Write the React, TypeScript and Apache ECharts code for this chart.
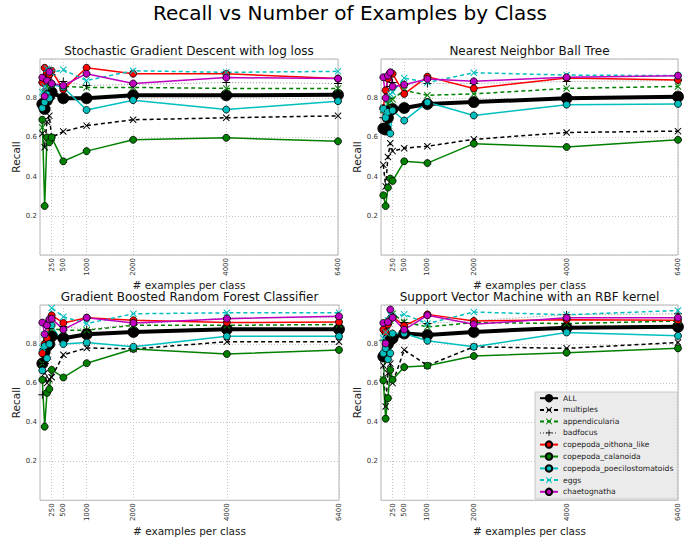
import React, { useEffect, useRef } from 'react';
import * as echarts from 'echarts';

// ---------- data ----------
const X_VALUES = [50, 100, 150, 200, 250, 500, 1000, 2000, 4000, 6400];
const X_TICKS = [250, 500, 1000, 2000, 4000, 6400];
const Y_TICKS = [0.2, 0.4, 0.6, 0.8];

const CLASS_NAMES = [
  'ALL',
  'multiples',
  'appendicularia',
  'badfocus',
  'copepoda_oithona_like',
  'copepoda_calanoida',
  'copepoda_poecilostomatoids',
  'eggs',
  'chaetognatha',
];

const PANEL_TITLES = [
  'Stochastic Gradient Descent with log loss',
  'Nearest Neighbor Ball Tree',
  'Gradient Boosted Random Forest Classifier',
  'Support Vector Machine with an RBF kernel',
];

// rows follow CLASS_NAMES, columns follow X_VALUES
const SGD = [
  [0.77, 0.745, 0.79, 0.81, 0.83, 0.8, 0.8, 0.815, 0.815, 0.817],
  [0.62, 0.55, 0.68, 0.71, 0.6, 0.63, 0.66, 0.69, 0.7, 0.71],
  [0.65, 0.83, 0.86, 0.88, 0.87, 0.86, 0.855, 0.855, 0.85, 0.85],
  [0.88, 0.9, 0.92, 0.93, 0.92, 0.885, 0.865, 0.87, 0.88, 0.875],
  [0.88, 0.955, 0.93, 0.92, 0.94, 0.845, 0.955, 0.925, 0.925, 0.9],
  [0.69, 0.25, 0.6, 0.575, 0.6, 0.478, 0.53, 0.588, 0.598, 0.58],
  [0.75, 0.78, 0.82, 0.8, 0.87, 0.856, 0.74, 0.79, 0.742, 0.785],
  [0.83, 0.86, 0.95, 0.94, 0.93, 0.945, 0.89, 0.94, 0.932, 0.937],
  [0.905, 0.81, 0.89, 0.935, 0.875, 0.865, 0.925, 0.875, 0.905, 0.9],
];

const NN = [
  [0.645, 0.64, 0.7, 0.74, 0.745, 0.75, 0.77, 0.78, 0.8, 0.808],
  [0.46, 0.35, 0.5, 0.57, 0.53, 0.545, 0.555, 0.59, 0.625, 0.632],
  [0.74, 0.72, 0.77, 0.79, 0.795, 0.84, 0.815, 0.822, 0.85, 0.86],
  [0.7, 0.72, 0.8, 0.86, 0.88, 0.87, 0.875, 0.875, 0.885, 0.89],
  [0.75, 0.84, 0.9, 0.93, 0.925, 0.822, 0.91, 0.85, 0.903, 0.893],
  [0.305, 0.25, 0.344, 0.39, 0.378, 0.478, 0.469, 0.568, 0.551, 0.588],
  [0.745, 0.7, 0.73, 0.62, 0.737, 0.686, 0.779, 0.712, 0.767, 0.771],
  [0.75, 0.72, 0.79, 0.82, 0.83, 0.903, 0.88, 0.93, 0.918, 0.915],
  [0.907, 0.801, 0.915, 0.932, 0.859, 0.869, 0.898, 0.886, 0.907, 0.915],
];

const GBRF = [
  [0.7, 0.76, 0.79, 0.8, 0.84, 0.83, 0.85, 0.862, 0.876, 0.876],
  [0.7, 0.65, 0.6, 0.62, 0.63, 0.745, 0.78, 0.775, 0.812, 0.812],
  [0.7, 0.8, 0.85, 0.9, 0.88, 0.871, 0.871, 0.896, 0.896, 0.9],
  [0.54, 0.7, 0.82, 0.88, 0.92, 0.89, 0.875, 0.9, 0.935, 0.935],
  [0.753, 0.8, 0.83, 0.92, 0.947, 0.908, 0.935, 0.922, 0.91, 0.913],
  [0.617, 0.377, 0.55, 0.57, 0.668, 0.629, 0.702, 0.775, 0.749, 0.77],
  [0.665, 0.79, 0.727, 0.8, 0.896, 0.8, 0.808, 0.786, 0.84, 0.84],
  [0.78, 0.85, 0.9, 0.92, 0.985, 0.94, 0.905, 0.955, 0.96, 0.96],
  [0.91, 0.85, 0.896, 0.927, 0.93, 0.874, 0.935, 0.908, 0.93, 0.942],
];

const SVM = [
  [0.736, 0.74, 0.8, 0.82, 0.83, 0.854, 0.846, 0.862, 0.884, 0.888],
  [0.69, 0.48, 0.65, 0.7, 0.6, 0.77, 0.69, 0.786, 0.778, 0.808],
  [0.62, 0.75, 0.85, 0.92, 0.955, 0.913, 0.888, 0.91, 0.905, 0.918],
  [0.82, 0.85, 0.9, 0.93, 0.94, 0.91, 0.905, 0.92, 0.95, 0.955],
  [0.874, 0.86, 0.9, 0.93, 0.939, 0.893, 0.952, 0.918, 0.925, 0.922],
  [0.614, 0.418, 0.523, 0.668, 0.617, 0.682, 0.689, 0.739, 0.756, 0.778],
  [0.753, 0.778, 0.722, 0.753, 0.854, 0.854, 0.817, 0.786, 0.859, 0.842],
  [0.83, 0.86, 0.92, 0.95, 0.94, 0.952, 0.905, 0.964, 0.95, 0.972],
  [0.908, 0.803, 0.913, 0.977, 0.935, 0.874, 0.947, 0.901, 0.935, 0.935],
];

const PANELS = [SGD, NN, GBRF, SVM];

// ---------- styles ----------
const FONT = 'DejaVu Sans';
const X_SYMBOL = 'path://M0,1L1,0L5,4L9,0L10,1L6,5L10,9L9,10L5,6L1,10L0,9L4,5Z';
const PLUS_SYMBOL = 'path://M4.4,0H5.6V4.4H10V5.6H5.6V10H4.4V5.6H0V4.4H4.4Z';
const DASH = [4, 3];

const STYLES: any[] = [
  { color: '#000000', line: '#000000', width: 4, type: 'solid', symbol: 'circle', size: 11, edge: true },
  { color: '#000000', line: '#000000', width: 1.5, type: DASH, symbol: X_SYMBOL, size: 7, edge: false },
  { color: '#008000', line: '#008000', width: 1.5, type: DASH, symbol: X_SYMBOL, size: 7, edge: false },
  { color: '#000000', line: '#8a8a8a', width: 1, type: [1, 2], symbol: PLUS_SYMBOL, size: 8, edge: false },
  { color: '#ff0000', line: '#ff0000', width: 1.5, type: 'solid', symbol: 'circle', size: 7, edge: true },
  { color: '#008000', line: '#008000', width: 1.5, type: 'solid', symbol: 'circle', size: 7, edge: true },
  { color: '#00bfbf', line: '#00bfbf', width: 1.5, type: 'solid', symbol: 'circle', size: 7, edge: true },
  { color: '#00bfbf', line: '#00bfbf', width: 1.5, type: DASH, symbol: X_SYMBOL, size: 7, edge: false },
  { color: '#bf00bf', line: '#bf00bf', width: 1.5, type: 'solid', symbol: 'circle', size: 7, edge: true },
];

const GRIDS = [
  { left: 40, top: 59, width: 298, height: 196 },
  { left: 381, top: 59, width: 297, height: 196 },
  { left: 40, top: 305, width: 299, height: 197 },
  { left: 381, top: 305, width: 297, height: 197 },
];

function buildOption() {
  const gridLine = { show: true, lineStyle: { color: '#c4c4c4', type: [1, 2], width: 1 } };
  const titles: any[] = [
    {
      text: 'Recall vs Number of Examples by Class',
      left: 350,
      top: 3,
      padding: 0,
      textAlign: 'center',
      textStyle: { fontSize: 20, fontWeight: 'normal', color: '#000', fontFamily: FONT },
    },
  ];
  GRIDS.forEach((g, i) => {
    titles.push({
      text: PANEL_TITLES[i],
      left: g.left + g.width / 2,
      top: g.top - 14,
      padding: 0,
      textAlign: 'center',
      textStyle: { fontSize: 12, fontWeight: 'normal', color: '#111', fontFamily: FONT, lineHeight: 12 },
    });
  });

  const series: any[] = [];
  PANELS.forEach((panel, p) => {
    panel.forEach((values, c) => {
      const s = STYLES[c];
      series.push({
        type: 'line',
        name: CLASS_NAMES[c],
        xAxisIndex: p,
        yAxisIndex: p,
        data: X_VALUES.map((x, k) => [x, values[k]]),
        symbol: s.symbol,
        symbolSize: s.size,
        showAllSymbol: true,
        itemStyle: {
          color: s.color,
          borderColor: s.edge ? '#000' : s.color,
          borderWidth: s.edge ? 0.8 : 0,
        },
        lineStyle: { color: s.line, width: s.width, type: s.type },
        emphasis: { disabled: true },
        clip: false,
      });
    });
  });

  return {
    animation: false,
    backgroundColor: '#ffffff',
    title: titles,
    grid: GRIDS.map((g) => ({
      ...g,
      show: true,
      borderColor: '#b4b4b4',
      borderWidth: 1,
      backgroundColor: '#ffffff',
    })),
    xAxis: GRIDS.map((_, i) => ({
      type: 'value',
      gridIndex: i,
      min: 0,
      max: 6400,
      name: '# examples per class',
      nameLocation: 'middle',
      nameGap: 16,
      nameTextStyle: { fontSize: 10.5, color: '#222', fontFamily: FONT, lineHeight: 11 },
      axisLine: { show: false },
      axisTick: { show: false, customValues: X_TICKS },
      axisLabel: {
        customValues: X_TICKS,
        rotate: 90,
        fontSize: 7,
        color: '#333',
        margin: 3,
        fontFamily: FONT,
        formatter: (v: number) => String(v),
      },
      splitLine: gridLine,
    })),
    yAxis: GRIDS.map((_, i) => ({
      type: 'value',
      gridIndex: i,
      min: 0,
      max: 1,
      interval: 0.2,
      name: 'Recall',
      nameLocation: 'middle',
      nameGap: 15,
      nameTextStyle: { fontSize: 10.5, color: '#222', fontFamily: FONT },
      axisLine: { show: false },
      axisTick: { show: false },
      axisLabel: {
        fontSize: 7,
        color: '#333',
        margin: 3,
        fontFamily: FONT,
        formatter: (v: number) => (Y_TICKS.some((t) => Math.abs(t - v) < 1e-6) ? v.toFixed(1) : ''),
      },
      splitLine: gridLine,
    })),
    legend: {
      orient: 'vertical',
      left: 535,
      top: 392,
      itemWidth: 18,
      itemHeight: 8,
      itemGap: 3.5,
      padding: [2, 4, 3, 4],
      backgroundColor: '#ebebeb',
      borderColor: '#c8c8c8',
      borderWidth: 1,
      selectedMode: false,
      textStyle: { fontSize: 7.6, color: '#222', fontFamily: FONT, lineHeight: 8 },
      data: CLASS_NAMES,
    },
    series,
  };
}

export default function App() {
  const ref = useRef<HTMLDivElement>(null);
  useEffect(() => {
    if (!ref.current) return;
    const chart = echarts.init(ref.current, null, { renderer: 'svg' });
    chart.setOption(buildOption() as any);
    return () => chart.dispose();
  }, []);
  return (
    <div
      ref={ref}
      style={{ position: 'fixed', left: 0, top: 0, width: 700, height: 537, background: '#fff' }}
    />
  );
}
